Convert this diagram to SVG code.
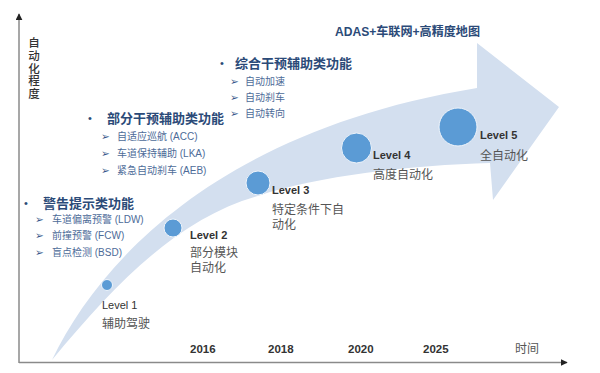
<svg xmlns="http://www.w3.org/2000/svg" width="600" height="373" viewBox="0 0 600 373">
<defs>
<marker id="ah" viewBox="0 0 10 10" refX="9" refY="5" markerWidth="7" markerHeight="7" markerUnits="userSpaceOnUse" orient="auto">
<path d="M0,0 L10,5 L0,10 Z" fill="#222"/>
</marker>
<style>
text{font-family:"Liberation Sans","Noto Sans CJK SC",sans-serif;dominant-baseline:central}
.ax{stroke:#8a8a8a;stroke-width:1.5;fill:none}
.ylab{font-size:11.5px;font-weight:500;fill:#333;text-anchor:middle}
.head{font-size:13px;font-weight:bold;fill:#2b4a78}
.bul{font-size:11px;fill:#2b4a78}
.sub{font-size:10px;fill:#4d6b98}
.arr{font-family:"DejaVu Sans",sans-serif;font-size:10.5px;fill:#34578a}
.lv{font-size:11px;fill:#333}
.lvb{font-size:11px;font-weight:bold;fill:#333}
.desc{font-size:12px;fill:#555}
.yr{font-size:11.5px;font-weight:bold;fill:#333}
.dot{fill:#5b9bd5;stroke:#eef4fb;stroke-width:1}
</style>
</defs>
<rect width="600" height="373" fill="#fff"/>
<g id="band">
<path d="M52,360 C100,260 220,130 477,88 L477,43 L559,107 L493,200 L490,163 C413,165 316,176 258,196 C180,218 118,280 52,360 Z" fill="#d3dfef"/>
</g>
<g id="connectors">
<line class="ax" x1="19" y1="363" x2="19" y2="14" marker-end="url(#ah)"/>
<line class="ax" x1="19" y1="362.5" x2="567" y2="362.5" marker-end="url(#ah)"/>
</g>
<g id="y-label">
<text class="ylab" x="34" y="43">自</text>
<text class="ylab" x="34" y="55.8">动</text>
<text class="ylab" x="34" y="68.6">化</text>
<text class="ylab" x="34" y="81.4">程</text>
<text class="ylab" x="34" y="94.2">度</text>
</g>
<g id="x-label">
<text class="yr" x="190" y="349">2016</text>
<text class="yr" x="268" y="349">2018</text>
<text class="yr" x="348" y="349">2020</text>
<text class="yr" x="423" y="349">2025</text>
<text class="desc" x="515" y="349">时间</text>
</g>
<g id="group-warning">
<text class="bul" x="24" y="203">•</text>
<text class="head" x="43" y="203">警告提示类功能</text>
<text class="arr" x="35" y="219">➢</text><text class="sub" x="52" y="219">车道偏离预警 (LDW)</text>
<text class="arr" x="35" y="235">➢</text><text class="sub" x="52" y="235">前撞预警 (FCW)</text>
<text class="arr" x="35" y="252">➢</text><text class="sub" x="52" y="252">盲点检测 (BSD)</text>
</g>
<g id="group-partial">
<text class="bul" x="88" y="118">•</text>
<text class="head" x="107" y="118">部分干预辅助类功能</text>
<text class="arr" x="101" y="136">➢</text><text class="sub" x="117" y="136">自适应巡航 (ACC)</text>
<text class="arr" x="101" y="153">➢</text><text class="sub" x="117" y="153">车道保持辅助 (LKA)</text>
<text class="arr" x="101" y="170">➢</text><text class="sub" x="117" y="170">紧急自动刹车 (AEB)</text>
</g>
<g id="group-integrated">
<text class="bul" x="220" y="63">•</text>
<text class="head" x="235" y="63">综合干预辅助类功能</text>
<text class="arr" x="230" y="81">➢</text><text class="sub" x="245" y="81">自动加速</text>
<text class="arr" x="230" y="97">➢</text><text class="sub" x="245" y="97">自动刹车</text>
<text class="arr" x="230" y="113">➢</text><text class="sub" x="245" y="113">自动转向</text>
</g>
<g id="top-label">
<text x="335" y="32" font-size="12.5" font-weight="bold" fill="#2b4a78" textLength="145" lengthAdjust="spacingAndGlyphs">ADAS+车联网+高精度地图</text>
</g>
<g id="level1">
<circle class="dot" cx="107" cy="285" r="5.5"/>
<text class="lv" x="102" y="305">Level 1</text>
<text class="desc" x="102" y="324">辅助驾驶</text>
</g>
<g id="level2">
<circle class="dot" cx="173" cy="228" r="9"/>
<text class="lvb" x="190" y="235">Level 2</text>
<text class="desc" x="190" y="253">部分模块</text>
<text class="desc" x="190" y="268">自动化</text>
</g>
<g id="level3">
<circle class="dot" cx="258" cy="183" r="12"/>
<text class="lvb" x="272" y="190">Level 3</text>
<text class="desc" x="272" y="210">特定条件下自</text>
<text class="desc" x="272" y="225">动化</text>
</g>
<g id="level4">
<circle class="dot" cx="356.5" cy="148" r="15"/>
<text class="lvb" x="373" y="155">Level 4</text>
<text class="desc" x="373" y="175">高度自动化</text>
</g>
<g id="level5">
<circle class="dot" cx="458" cy="127" r="19"/>
<text class="lvb" x="480" y="135">Level 5</text>
<text class="desc" x="480" y="156">全自动化</text>
</g>
</svg>
